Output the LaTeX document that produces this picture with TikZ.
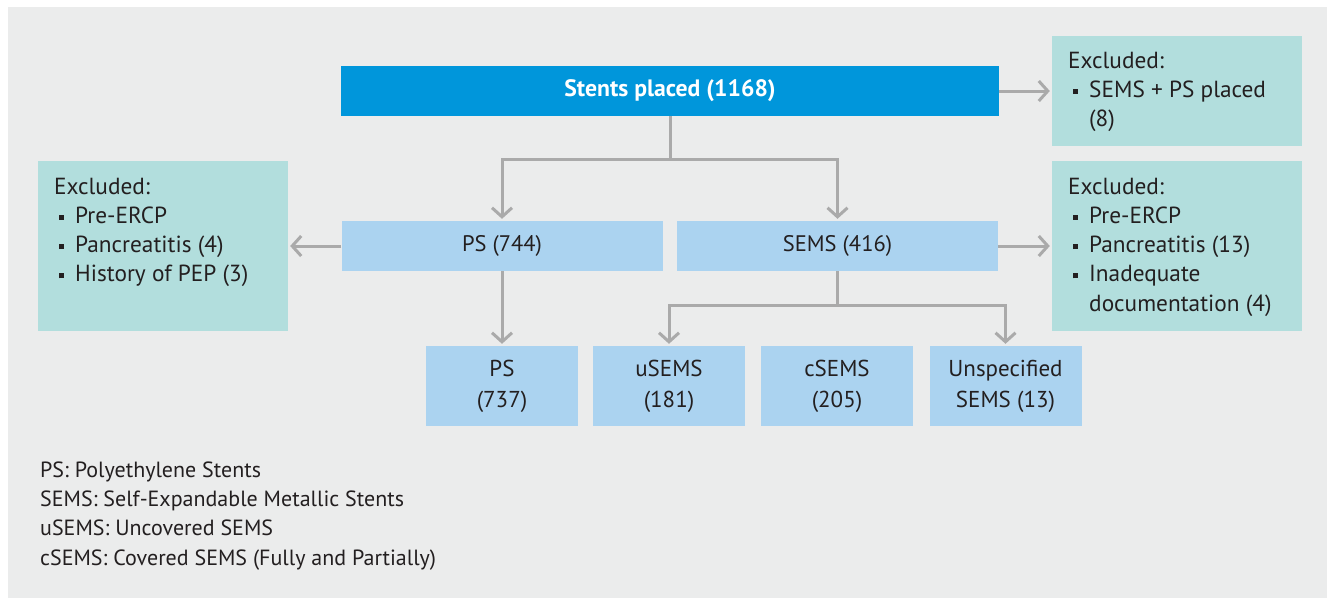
\documentclass[tikz,border=0pt]{standalone}
\usepackage{fontspec}
\setmainfont{PT Sans}
\usetikzlibrary{arrows.meta}
\definecolor{bggray}{HTML}{EBECEC}
\definecolor{topblue}{HTML}{0096DB}
\definecolor{lightblue}{HTML}{ABD3F0}
\definecolor{tealbox}{HTML}{B2DEDD}
\definecolor{conngray}{HTML}{AAAAAA}
\definecolor{txtdark}{HTML}{231F20}
\newcommand{\sqb}{\raisebox{3.5pt}{\rule{5pt}{5pt}}}
\tikzset{
  base/.style={font=\fontsize{23.3}{29.25}\selectfont, text=txtdark, inner sep=0pt},
  topbox/.style={base, fill=topblue, text=white, font=\fontsize{23.7}{30}\selectfont\bfseries, minimum width=658pt, minimum height=50pt},
  midbox/.style={base, fill=lightblue, minimum width=321pt, minimum height=50pt, font=\fontsize{22.5}{30}\selectfont},
  lowbox/.style={base, fill=lightblue, minimum width=152pt, minimum height=80pt, align=center, font=\fontsize{23}{31}\selectfont},
  exbox/.style={base, fill=tealbox, minimum width=250pt},
  extext/.style={base, anchor=base west},
  arr/.style={draw=conngray, line width=3pt, -{Straight Barb[length=9pt,width=20pt]}, shorten >=2pt},
  ln/.style={draw=conngray, line width=3pt}
}
\begin{document}
\begin{tikzpicture}[x=1pt,y=-1pt]
\useasboundingbox (0,0) rectangle (1327,598);
\fill[bggray] (8,7) rectangle (1327,598);
% main boxes
\node[topbox] (top) at (670,91) {Stents placed (1168)};
\node[midbox] (ps) at (502,246) {PS (744)};
\node[midbox] (sems) at (837.5,246) {SEMS (416)};
\node[lowbox] (ps2) at (502,386) {PS\\(737)};
\node[lowbox] (usems) at (669,386) {uSEMS\\(181)};
\node[lowbox] (csems) at (837,386) {cSEMS\\(205)};
\node[lowbox] (usp) at (1005.5,386) {Unspecified\\SEMS (13)};
% excluded boxes
\node[exbox, minimum height=110pt] (ex1) at (1177,91) {};
\node[exbox, minimum height=170pt] (ex2) at (163,246) {};
\node[exbox, minimum height=170pt] (ex3) at (1177,246) {};
\node[extext] (ex1t) at (1068,68) {\begin{tabular}[t]{@{}l@{\hspace{11pt}}l@{}}
\multicolumn{2}{@{}l@{}}{Excluded:}\\
\hspace{5pt}\sqb & SEMS + PS placed\\
 & (8)
\end{tabular}};
\node[extext] (ex2t) at (54,194) {\begin{tabular}[t]{@{}l@{\hspace{11pt}}l@{}}
\multicolumn{2}{@{}l@{}}{Excluded:}\\
\hspace{5pt}\sqb & Pre-ERCP\\
\hspace{5pt}\sqb & Pancreatitis (4)\\
\hspace{5pt}\sqb & History of PEP (3)
\end{tabular}};
\node[extext] (ex3t) at (1068,194) {\begin{tabular}[t]{@{}l@{\hspace{11pt}}l@{}}
\multicolumn{2}{@{}l@{}}{Excluded:}\\
\hspace{5pt}\sqb & Pre-ERCP\\
\hspace{5pt}\sqb & Pancreatitis (13)\\
\hspace{5pt}\sqb & Inadequate\\
 & documentation (4)
\end{tabular}};
% legend
\node[base, anchor=base west, font=\fontsize{22}{29.4}\selectfont] (legend) at (40,477) {\begin{tabular}[t]{@{}l@{}}PS: Polyethylene Stents\\SEMS: Self-Expandable Metallic Stents\\uSEMS: Uncovered SEMS\\cSEMS: Covered SEMS (Fully and Partially)\end{tabular}};
% connectors
\coordinate (j1) at (670,159);
\coordinate (j2) at (837.5,305);
\draw[ln] (top.south) -- (j1);
\draw[arr] (j1) -| (ps.north);
\draw[arr] (j1) -| (sems.north);
\draw[arr] (ps.south) -- (ps2.north);
\draw[ln] (sems.south) -- (j2);
\draw[arr] (j2) -| (usems.north);
\draw[arr] (j2) -| (usp.north);
\draw[arr] (top.east) -- (ex1.west);
\draw[arr] (ps.west) -- (ex2.east);
\draw[arr] (sems.east) -- (ex3.west);
\end{tikzpicture}
\end{document}
